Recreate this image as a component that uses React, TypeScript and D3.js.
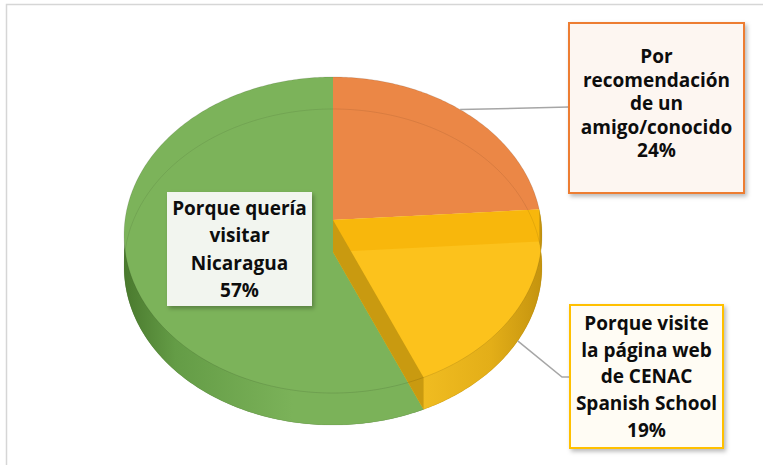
import React from "react";
import * as d3 from "d3";

// ---- data ----
const categories = [
  "Por recomendación de un amigo/conocido",
  "Porque visite la página web de CENAC Spanish School",
  "Porque quería visitar Nicaragua",
];
const values = [24, 19, 57];
const labelLines = [
  ["Por", "recomendación", "de un", "amigo/conocido"],
  ["Porque visite", "la página web", "de CENAC", "Spanish School"],
  ["Porque quería", "visitar", "Nicaragua"],
];
const faceColors = ["#EB8746", "#FCC21C", "#7CB35A"];
const borderColors = ["#ED7D31", "#FFC000", "none"];
const boxFills = ["#FDF6F1", "#FFFCF4", "#F2F5EF"];

// ---- layout ----
const W = 763;
const H = 465;
const CX = 333;
const CY = 220;
const RX = 208;
const RY = 156.6;
const K = 0.095;
const D = 32;
const WARP = 0.04;

// label boxes: [x, y, w, h, firstBaseline, lineStep]
const boxes = [
  [569, 23, 175, 170, 63, 23.5],
  [570, 305, 153, 143, 330, 26.7],
  [167, 192, 145, 114, 215, 27.3],
];

function rim(t: number, dy = 0): [number, number] {
  const u = t - WARP * Math.sin(2 * t);
  const s = Math.sin(u);
  const c = Math.cos(u);
  const w = 1 + K * c;
  return [CX + (RX * s) / w, CY - (RY * c) / w + dy];
}
function arcPts(t0: number, t1: number, dy = 0): [number, number][] {
  const n = Math.max(2, Math.ceil(Math.abs(t1 - t0) / 0.015));
  const pts: [number, number][] = [];
  for (let i = 0; i <= n; i++) pts.push(rim(t0 + ((t1 - t0) * i) / n, dy));
  return pts;
}
const lineGen = d3.line<[number, number]>();
const closed = (pts: [number, number][]) => (lineGen(pts) || "") + "Z";

export default function App() {
  const arcs = d3.pie<number>().sort(null).value((d) => d)(values);
  const total = d3.sum(values);
  const pct = (v: number) => d3.format(".0%")(v / total);

  const P0: [number, number] = [CX, CY];
  const P1: [number, number] = [CX, CY + D];

  const [aO, aY, aG] = arcs;
  const a1 = aO.endAngle;
  const a2 = aY.endAngle;
  const leftExtreme = 1.5 * Math.PI - 0.1;

  // green
  const greenTop = closed([P0, ...arcPts(aG.startAngle, aG.endAngle)]);
  const greenLow = closed([P1, ...arcPts(aG.startAngle, aG.endAngle, D)]);
  const greenWall = closed([
    ...arcPts(aG.startAngle, leftExtreme),
    ...arcPts(leftExtreme, aG.startAngle, D),
  ]);
  // orange
  const orangeTop = closed([P0, ...arcPts(aO.startAngle, aO.endAngle)]);
  // yellow
  const yellowTop = closed([P0, ...arcPts(aY.startAngle, aY.endAngle)]);
  const yellowLow = closed([P1, ...arcPts(aY.startAngle, aY.endAngle, D)]);
  const yellowWall = closed([
    ...arcPts(aY.startAngle, aY.endAngle),
    ...arcPts(aY.endAngle, aY.startAngle, D),
  ]);
  const band = closed([P0, rim(a1), rim(a1, D), P1]);
  const darkWall = closed([P0, rim(a2), rim(a2, D), P1]);

  const ringTop = closed(arcPts(0, 2 * Math.PI));
  const ringLow = closed(arcPts(0, 2 * Math.PI, D));

  // leader lines
  const midO = (aO.startAngle + aO.endAngle) / 2;
  const midY = (aY.startAngle + aY.endAngle) / 2;
  const lo = rim(midO);
  const ly = rim(midY, D);
  const leaderO = lineGen([lo, [boxes[0][0], 107]]) || "";
  const leaderY =
    lineGen([ly, [boxes[1][0] - 8, 377], [boxes[1][0], 377]]) || "";

  const font = "'Open Sans', Lato, sans-serif";

  return (
    <svg
      width={W}
      height={H}
      style={{ position: "absolute", left: 0, top: 0, background: "#fff" }}
    >
      <defs>
        <linearGradient id="gw" gradientUnits="userSpaceOnUse" x1={CX - RX} y1={0} x2={CX - 40} y2={0}>
          <stop offset="0" stopColor="#4A7A2E" />
          <stop offset="0.3" stopColor="#649C46" />
          <stop offset="1" stopColor="#7BB259" />
        </linearGradient>
        <linearGradient id="yw" gradientUnits="userSpaceOnUse" x1={CX + 80} y1={0} x2={CX + RX + 2} y2={0}>
          <stop offset="0" stopColor="#F2BE22" />
          <stop offset="0.6" stopColor="#E3AE18" />
          <stop offset="1" stopColor="#C4930E" />
        </linearGradient>
        <filter id="sh" x="-10%" y="-10%" width="125%" height="125%">
          <feDropShadow dx="2" dy="2.5" stdDeviation="2" floodColor="#000" floodOpacity="0.28" />
        </filter>
      </defs>

      {/* chart frame */}
      <path d={`M6.5,${H} V4.5 H${W}`} fill="none" stroke="#D6D6D6" strokeWidth={1.5} />

      {/* green slice */}
      <path d={greenLow} fill={faceColors[2]} />
      <path d={greenTop} fill={faceColors[2]} />
      <path d={greenWall} fill="url(#gw)" />

      {/* orange slice */}
      <path d={orangeTop} fill={faceColors[0]} />

      {/* yellow slice */}
      <path d={yellowLow} fill={faceColors[1]} />
      <path d={yellowTop} fill={faceColors[1]} />
      <path d={yellowWall} fill="url(#yw)" />
      <path d={band} fill="#F8B70C" />
      <path d={darkWall} fill="#C99A10" />

      {/* faint rims */}
      <path d={ringTop} fill="none" stroke="#000" strokeOpacity={0.1} strokeWidth={1} />
      <path d={ringLow} fill="none" stroke="#000" strokeOpacity={0.08} strokeWidth={1} />

      {/* leader lines */}
      <path d={leaderO} fill="none" stroke="#A6A6A6" strokeWidth={1.5} />
      <path d={leaderY} fill="none" stroke="#A6A6A6" strokeWidth={1.5} />

      {/* labels */}
      {boxes.map(([x, y, w, h, b0, step], i) => (
        <g key={categories[i]}>
          <rect
            x={x}
            y={y}
            width={w}
            height={h}
            fill={boxFills[i]}
            stroke={borderColors[i]}
            strokeWidth={2}
            filter="url(#sh)"
          />
          <text
            x={x + w / 2}
            textAnchor="middle"
            fontFamily={font}
            fontWeight={700}
            fontSize={19}
            fill="#0d0d0d"
          >
            {[...labelLines[i], pct(values[i])].map((ln, j) => (
              <tspan key={j} x={x + w / 2} y={b0 + j * step}>
                {ln}
              </tspan>
            ))}
          </text>
        </g>
      ))}
    </svg>
  );
}
